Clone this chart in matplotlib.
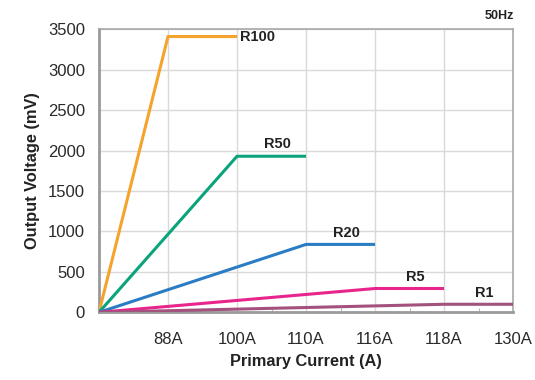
import matplotlib.pyplot as plt
from matplotlib.ticker import MultipleLocator

plt.rcParams['font.family'] = ['Liberation Sans', 'DejaVu Sans']

# x positions are category slots: 0 = origin, 1..6 = labelled currents
current_labels = ['88A', '100A', '110A', '116A', '118A', '130A']
current_pos = [1, 2, 3, 4, 5, 6]

# each range: rises from the origin, then stays flat for one slot
r100_x = [0, 1, 2]
r100_y = [0, 3410, 3410]
r50_x = [0, 2, 3]
r50_y = [0, 1930, 1930]
r20_x = [0, 3, 4]
r20_y = [0, 840, 840]
r5_x = [0, 4, 5]
r5_y = [0, 295, 295]
r1_x = [0, 5, 6]
r1_y = [0, 100, 100]

series = [
    ('R100', r100_x, r100_y, '#f4a32c'),
    ('R50', r50_x, r50_y, '#0aa37b'),
    ('R20', r20_x, r20_y, '#2a7dc4'),
    ('R5', r5_x, r5_y, '#e8258c'),
    ('R1', r1_x, r1_y, '#a2527c'),
]

fig = plt.figure(figsize=(5.35, 3.8), dpi=100)
ax = fig.add_axes([0.185, 0.178, 0.774, 0.745])

for name, xs, ys, col in series:
    ax.plot(xs, ys, color=col, linewidth=2.2, solid_capstyle='butt', zorder=3)

# series names next to their flat parts
lab = dict(fontsize=10.5, fontweight='bold', color='#222222')
ax.text(2.05, r100_y[-1], 'R100', ha='left', va='center', **lab)
ax.text(2.58, r50_y[-1] + 60, 'R50', ha='center', va='bottom', **lab)
ax.text(3.58, r20_y[-1] + 60, 'R20', ha='center', va='bottom', **lab)
ax.text(4.58, r5_y[-1] + 50, 'R5', ha='center', va='bottom', **lab)
ax.text(5.58, r1_y[-1] + 50, 'R1', ha='center', va='bottom', **lab)

ax.set_xlim(0, 6)
ax.set_ylim(0, 3500)
ax.set_xticks(current_pos)
ax.set_xticklabels(current_labels)
ax.xaxis.set_minor_locator(MultipleLocator(0.5))
ax.yaxis.set_major_locator(MultipleLocator(500))

ax.tick_params(axis='both', which='major', length=0, labelsize=12, colors='#2a2a2a', pad=10)
ax.tick_params(axis='x', which='minor', direction='in', length=3, color='#aaaaaa')
ax.tick_params(axis='x', which='major', pad=14)

ax.grid(True, which='major', color='#d9d9d9', linewidth=1)
ax.set_axisbelow(True)

for side in ['left', 'bottom']:
    ax.spines[side].set_color('#9a9a9a')
    ax.spines[side].set_linewidth(2)
for side in ['top', 'right']:
    ax.spines[side].set_color('#a8a8a8')
    ax.spines[side].set_linewidth(1.2)

ax.set_ylabel('Output Voltage (mV)', fontsize=11.8, fontweight='bold', color='#222222', labelpad=6)
ax.set_xlabel('Primary Current (A)', fontsize=11.8, fontweight='bold', color='#222222', labelpad=5)

fig.text(0.961, 0.958, '50Hz', ha='right', va='center', fontsize=9, fontweight='bold', color='#222222')

fig.savefig('out.png', dpi=100)
